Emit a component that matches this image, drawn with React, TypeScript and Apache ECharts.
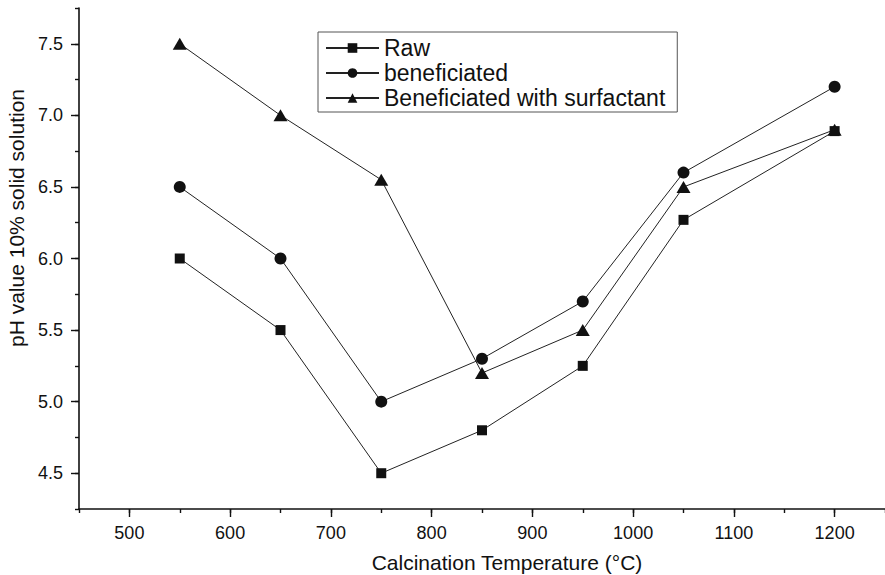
import React, { useEffect, useRef } from "react";
import * as echarts from "echarts";

const temperatures = [550, 650, 750, 850, 950, 1050, 1200];
const rawPH = [6.0, 5.5, 4.5, 4.8, 5.25, 6.27, 6.89];
const beneficiatedPH = [6.5, 6.0, 5.0, 5.3, 5.7, 6.6, 7.2];
const surfactantPH = [7.5, 7.0, 6.55, 5.2, 5.5, 6.5, 6.9];
const seriesNames = ["Raw", "beneficiated", "Beneficiated with surfactant"];
const seriesSymbols = ["rect", "circle", "triangle"];
const xTickValues = [500, 600, 700, 800, 900, 1000, 1100, 1200];
const yTickValues = [4.5, 5.0, 5.5, 6.0, 6.5, 7.0, 7.5];
const xTitle = "Calcination Temperature (°C)";
const yTitle = "pH value 10% solid solution";

const FONT = "'Liberation Sans', Arial, Helvetica, sans-serif";
const INK = "#111";

export default function App() {
  const ref = useRef<HTMLDivElement>(null);

  useEffect(() => {
    if (!ref.current) return;
    const chart = echarts.init(ref.current, undefined, { renderer: "svg" });
    const values = [rawPH, beneficiatedPH, surfactantPH];
    const sizes: any[] = [10, 12, [14, 12]];
    const grid = { left: 79, top: 8, width: 808, height: 501 };

    const axisLine = { show: true, lineStyle: { color: INK, width: 1.6 } };

    chart.setOption({
      animation: false,
      backgroundColor: "#fff",
      grid,
      xAxis: [
        {
          type: "value",
          min: 450,
          max: 1250,
          interval: 50,
          axisLine,
          splitLine: { show: false },
          axisTick: {
            show: true,
            length: 8,
            customValues: xTickValues,
            lineStyle: { color: INK, width: 1.4 },
          },
          axisLabel: {
            customValues: xTickValues,
            margin: 15,
            fontSize: 18,
            color: INK,
            fontFamily: FONT,
            formatter: (v: number) => String(v),
          },
        },
        {
          type: "value",
          position: "bottom",
          min: 450,
          max: 1250,
          interval: 50,
          axisLine: { show: false },
          splitLine: { show: false },
          axisLabel: { show: false },
          axisTick: { show: true, length: 4, lineStyle: { color: INK, width: 1.4 } },
        },
      ],
      yAxis: [
        {
          type: "value",
          min: 4.25,
          max: 7.75,
          interval: 0.25,
          axisLine,
          splitLine: { show: false },
          axisTick: {
            show: true,
            length: 8,
            customValues: yTickValues,
            lineStyle: { color: INK, width: 1.4 },
          },
          axisLabel: {
            customValues: yTickValues,
            margin: 16,
            fontSize: 18,
            color: INK,
            fontFamily: FONT,
            formatter: (v: number) => v.toFixed(1),
          },
        },
        {
          type: "value",
          position: "left",
          min: 4.25,
          max: 7.75,
          interval: 0.25,
          axisLine: { show: false },
          splitLine: { show: false },
          axisLabel: { show: false },
          axisTick: { show: true, length: 4, lineStyle: { color: INK, width: 1.4 } },
        },
      ],
      legend: {
        orient: "vertical",
        left: 318,
        top: 32,
        padding: [4, 12, 2, 7],
        itemWidth: 53,
        itemHeight: 12,
        itemGap: 1,
        borderColor: "#555",
        borderWidth: 1,
        textStyle: { fontSize: 23, color: INK, fontFamily: FONT, lineHeight: 24 },
        data: seriesNames,
      },
      graphic: [
        {
          type: "text",
          x: 507,
          y: 562,
          style: {
            text: xTitle,
            fontSize: 21,
            fontFamily: FONT,
            fill: INK,
            align: "center",
            verticalAlign: "middle",
          },
        },
        {
          type: "text",
          x: 16,
          y: 218,
          rotation: Math.PI / 2,
          style: {
            text: yTitle,
            fontSize: 21,
            fontFamily: FONT,
            fill: INK,
            align: "center",
            verticalAlign: "middle",
          },
        },
      ],
      series: seriesNames.map((name, i) => ({
        name,
        type: "line",
        xAxisIndex: 0,
        yAxisIndex: 0,
        data: temperatures.map((t, j) => [t, values[i][j]]),
        symbol: seriesSymbols[i],
        symbolSize: sizes[i],
        showAllSymbol: true,
        color: INK,
        itemStyle: { color: INK },
        lineStyle: { color: "#222", width: 1 },
        z: 2 + i,
      })),
    });

    return () => chart.dispose();
  }, []);

  return (
    <div
      ref={ref}
      style={{ position: "fixed", left: 0, top: 0, width: 885, height: 575, background: "#fff" }}
    />
  );
}
